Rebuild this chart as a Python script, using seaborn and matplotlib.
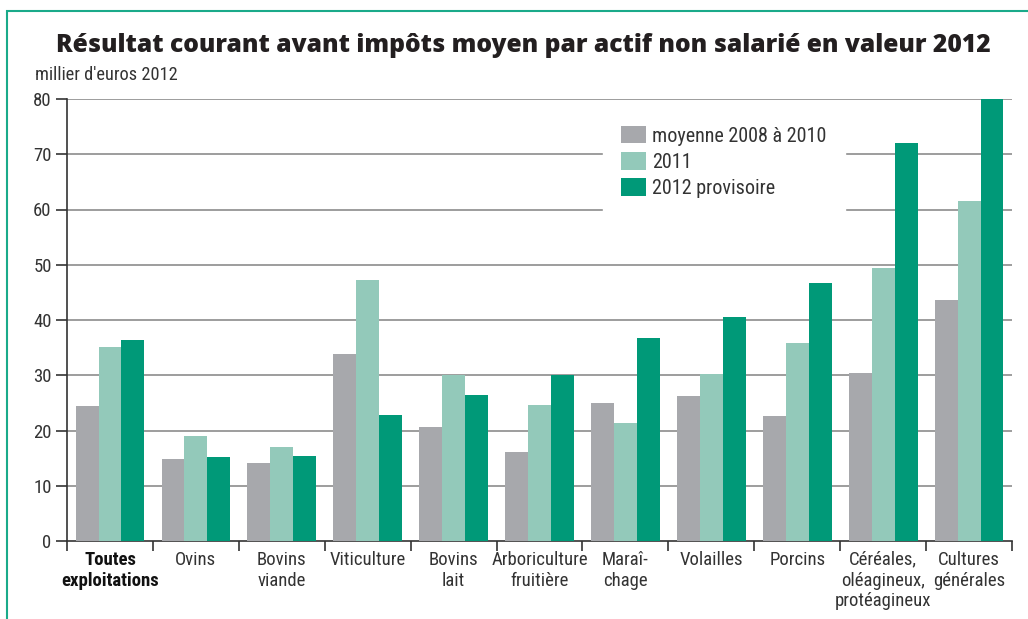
import matplotlib
matplotlib.use("Agg")
import matplotlib.pyplot as plt
import seaborn as sns
import pandas as pd
import numpy as np
from matplotlib.patches import Rectangle
from matplotlib.ticker import FixedLocator

categories = ["Toutes\nexploitations", "Ovins", "Bovins\nviande", "Viticulture", "Bovins\nlait",
              "Arboriculture\nfruitière", "Maraî-\nchage", "Volailles", "Porcins",
              "Céréales,\noléagineux,\nprotéagineux", "Cultures\ngénérales"]
series_names = ["moyenne 2008 à 2010", "2011", "2012 provisoire"]
moyenne = [24.4, 14.8, 14.1, 33.9, 20.6, 16.1, 25.0, 26.3, 22.6, 30.4, 43.6]
v2011 = [35.1, 19.0, 17.0, 47.3, 30.0, 24.6, 21.3, 30.3, 35.9, 49.5, 61.6]
v2012 = [36.3, 15.2, 15.4, 22.8, 26.4, 30.0, 36.8, 40.5, 46.7, 72.1, 80.0]
yticks = [0, 10, 20, 30, 40, 50, 60, 70, 80]
colors = ["#A7A8AC", "#93C9BA", "#009978"]

sns.set_theme(style="white")
plt.rcParams['font.family'] = ['Roboto Condensed', 'Liberation Sans Narrow', 'Liberation Sans', 'DejaVu Sans']

df = pd.DataFrame({
    "cat": categories * 3,
    "val": moyenne + v2011 + v2012,
    "serie": [series_names[0]] * 11 + [series_names[1]] * 11 + [series_names[2]] * 11,
})

fig = plt.figure(figsize=(10.28, 6.19), dpi=100)
ax = fig.add_axes([67 / 1028, 1 - 541 / 619, (1012 - 67) / 1028, (541 - 99) / 619])

sns.barplot(data=df, x="cat", y="val", hue="serie", palette=colors, width=0.8,
            saturation=1, ax=ax, linewidth=0, zorder=3)

ax.set_ylim(0, 80)
ax.set_xlim(-0.5, 10.5)
ax.set_yticks(yticks)
ax.set_yticklabels([str(t) for t in yticks])
for y in yticks[1:]:
    ax.axhline(y, color="#8C8C8C", lw=1.2, zorder=1)

for s in ["top", "right"]:
    ax.spines[s].set_visible(False)
for s in ["left", "bottom"]:
    ax.spines[s].set_color("#333333")
    ax.spines[s].set_linewidth(1.2)

ax.tick_params(axis="y", direction="out", length=8, width=1.2, color="#333333",
               labelsize=13.5, labelcolor="#333333", pad=3, left=True)
ax.tick_params(axis="x", which="major", length=0, labelsize=13.5, labelcolor="#333333", pad=7)
ax.xaxis.set_minor_locator(FixedLocator(np.arange(-0.5, 11, 1)))
ax.tick_params(axis="x", which="minor", direction="out", length=7, width=1.2,
               color="#333333", bottom=True)
ax.set_xlabel("")
ax.set_ylabel("")
labels = ax.get_xticklabels()
labels[0].set_fontweight("bold")
labels[0].set_color("#111111")

leg = ax.legend(loc="upper left", bbox_to_anchor=((603 - 67) / 945, (541 - 108) / 442), frameon=True,
                facecolor="white", edgecolor="white", framealpha=1, fontsize=14.5,
                handlelength=1.25, handleheight=0.95, handletextpad=0.3, labelspacing=0.32,
                borderpad=0.9, borderaxespad=0, fancybox=False)
for t in leg.get_texts():
    t.set_color("#333333")
leg.set_zorder(5)

fig.text(523 / 1028, 1 - 45 / 619, "Résultat courant avant impôts moyen par actif non salarié en valeur 2012",
         ha="center", va="center", fontsize=17.7, fontweight="heavy", color="#231F20",
         family=["Open Sans", "DejaVu Sans"])
fig.text(35 / 1028, 1 - 75 / 619, "millier d'euros 2012", ha="left", va="center",
         fontsize=13.2, color="#333333")

fig.add_artist(Rectangle((7 / 1028, -0.1), 1.2, 1 - 11 / 619 + 0.1, transform=fig.transFigure,
                         fill=False, edgecolor="#1AAA8A", lw=1.5))

fig.savefig("out.png", dpi=100)
